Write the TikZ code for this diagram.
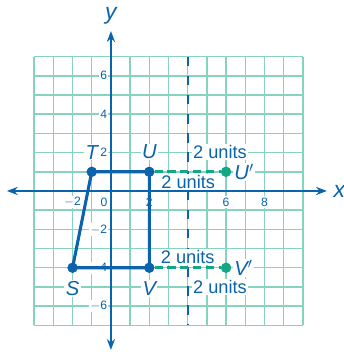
\documentclass[tikz,border=0pt]{standalone}
\usepackage{fontspec}
\setmainfont{Liberation Sans}
\usepackage{tikz}
\usetikzlibrary{positioning,arrows.meta}
\definecolor{axisblue}{HTML}{0A63AC}
\definecolor{imagegreen}{HTML}{13A885}
\definecolor{gridteal}{HTML}{86D3BF}

\begin{document}
\begin{tikzpicture}[x=0.5cm, y=0.5cm,
  font=\fontsize{13.5}{15}\selectfont,
  pt/.style={circle, fill=axisblue, inner sep=0pt, minimum size=7.5pt},
  ptimg/.style={circle, fill=imagegreen, inner sep=0pt, minimum size=7.5pt},
  lbl/.style={fill=white, inner sep=1pt, text=axisblue, font=\fontsize{15}{17}\selectfont\itshape},
  ticklbl/.style={fill=white, inner sep=1pt, text=axisblue, font=\fontsize{9}{10}\selectfont},
  units/.style={fill=white, inner sep=1pt, text=axisblue},
  edgeline/.style={line width=2.3pt, axisblue},
  slideline/.style={line width=1.9pt, imagegreen, dash pattern=on 6pt off 3.5pt},
  arr/.style={{Stealth[length=8pt,width=6pt]}-{Stealth[length=8pt,width=6pt]}, line width=1.7pt, axisblue}]

\useasboundingbox (-5.78,-8.39) rectangle (12.14,9.95);

% grid and line of reflection
\draw[gridteal, line width=1.1pt, step=0.5cm] (-4,-7) grid (10,7);
\draw[axisblue, line width=1.6pt, dash pattern=on 7.09pt off 7.09pt] (4,7) -- (4,-7);

% distance labels
\node[units] (uTop) at (5.68,2.03) {2 units};
\node[units] (uBot) at (4.03,0.47) {2 units};
\node[units] (vTop) at (4.0,-3.44) {2 units};
\node[units] (vBot) at (5.68,-5.0) {2 units};

% tick labels
\foreach \y/\t in {6/6,4/4,2/2,-2/$-$2,-4/$-$4,-6/$-$6}
  \node[ticklbl, anchor=east] (ty\y) at (-0.12,\y) {\t};
\foreach \x/\t in {-2/$-$2,2/2,6/6,8/8}
  \node[ticklbl] (tx\x) at (\x,-0.57) {\t};
\node[ticklbl] (t0) at (-0.36,-0.57) {0};

% axes
\coordinate (xl) at (-5.42,0);
\coordinate (xr) at (11.25,0);
\coordinate (yb) at (0,-8.28);
\coordinate (yt) at (0,8.33);
\draw[arr] (xl) -- (xr);
\draw[arr] (yb) -- (yt);
\node[text=axisblue, font=\fontsize{17}{19}\selectfont\itshape] (xlab) at (11.9,0) {x};
\node[text=axisblue, font=\fontsize{17}{19}\selectfont\itshape] (ylab) at (0,9.1) {y};

% figure STUV and image points
\node[pt] (T) at (-1,1) {};
\node[pt] (U) at (2,1) {};
\node[pt] (V) at (2,-4) {};
\node[pt] (S) at (-2,-4) {};
\node[ptimg] (U') at (6,1) {};
\node[ptimg] (V') at (6,-4) {};

\draw[slideline] (U) -- (U');
\draw[slideline] (V) -- (V');
\draw[edgeline, line join=round] (T.center) -- (U.center) -- (V.center) -- (S.center) -- cycle;
\node[pt] at (T) {};
\node[pt] at (U) {};
\node[pt] at (V) {};
\node[pt] at (S) {};
\node[ptimg] at (U') {};
\node[ptimg] at (V') {};

\node[lbl, above=0.15cm of T] (lT) {T};
\node[lbl, above=0.15cm of U] (lU) {U};
\node[lbl, below=0.18cm of S] (lS) {S};
\node[lbl, below=0.18cm of V] (lV) {V};
\node[lbl, right=1pt of U'] (lU') {U$'$};
\node[lbl, right=1pt of V'] (lV') {V$'$};
\end{tikzpicture}
\end{document}
